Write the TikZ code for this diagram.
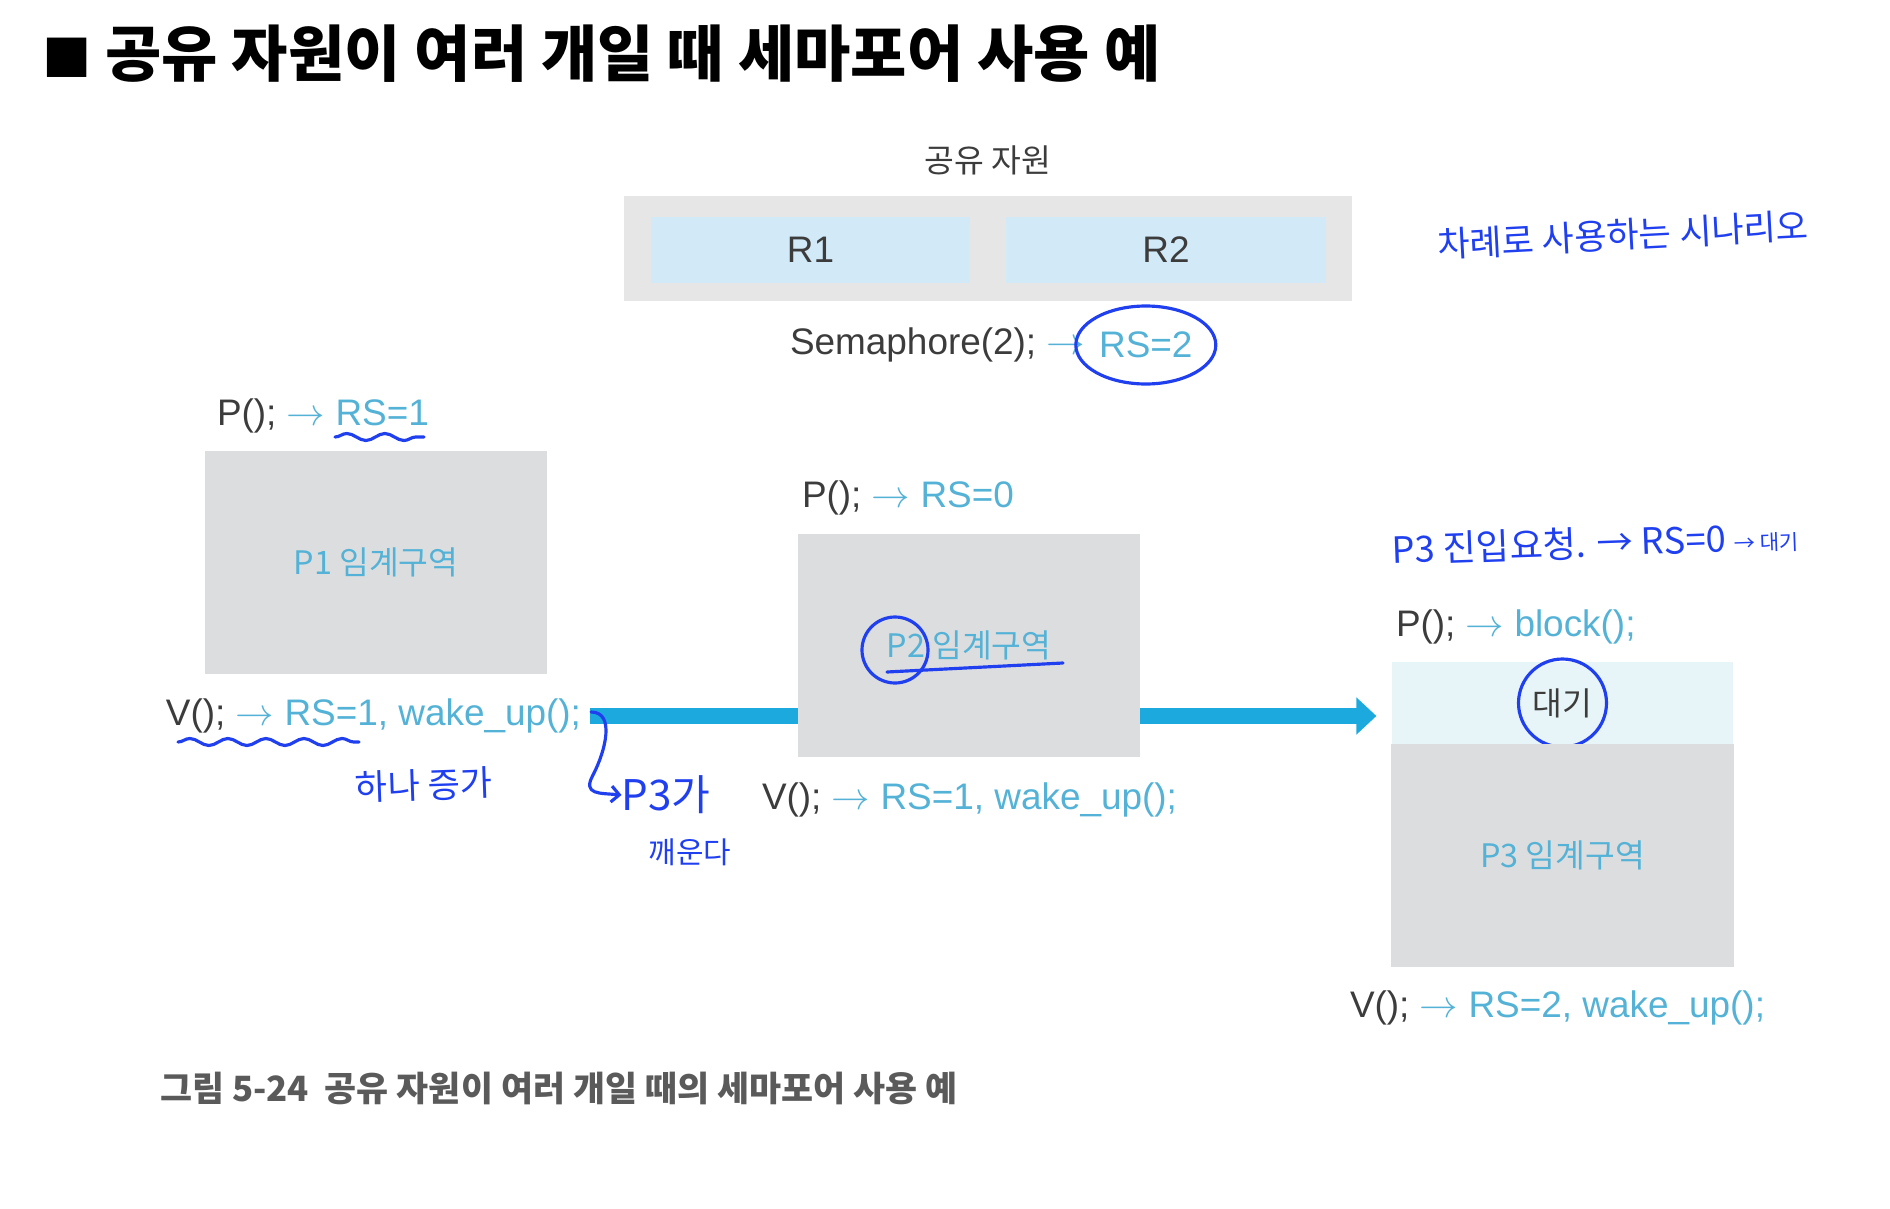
\documentclass[tikz,border=0pt]{standalone}
\usepackage{fontspec}
\setmainfont{Liberation Sans}
\newfontfamily\kr{Noto Sans CJK KR}
\usetikzlibrary{decorations.pathmorphing,arrows.meta,positioning}

\definecolor{boxgray}{RGB}{220,221,223}
\definecolor{outergray}{RGB}{230,230,230}
\definecolor{resblue}{RGB}{210,234,248}
\definecolor{waitcyan}{RGB}{232,245,248}
\definecolor{codeblue}{RGB}{84,178,214}
\definecolor{flowblue}{RGB}{28,170,222}
\definecolor{inkblue}{RGB}{32,64,240}
\definecolor{textgray}{RGB}{60,60,60}
\definecolor{capgray}{RGB}{90,90,90}

\newcommand{\arr}{\textcolor{codeblue}{$\rightarrow$}}

\begin{document}
\begin{tikzpicture}[x=0.01cm,y=-0.01cm,line cap=round,line join=round,
  every node/.style={inner sep=0pt,outer sep=0pt},
  code/.style={font=\fontsize{10.5}{12}\selectfont,text=textgray,anchor=west},
  krlabel/.style={font=\kr\fontsize{9.2}{11}\selectfont},
  area/.style={fill=boxgray,minimum width=3.42cm,minimum height=2.23cm,krlabel,text=codeblue},
  resbox/.style={fill=resblue,minimum width=3.19cm,minimum height=0.66cm,font=\fontsize{10.5}{12}\selectfont,text=textgray},
  flow/.style={draw=flowblue,line width=4.8pt,line cap=butt},
  ink/.style={draw=inkblue,line width=0.9pt},
  wavy/.style={ink,decorate,decoration={snake,segment length=0.38cm,amplitude=0.035cm}},
  hand/.style={text=inkblue,font=\kr\fontsize{10}{12}\selectfont}]
  \useasboundingbox (0,0) rectangle (1890,1209);

  % title
  \node[anchor=west,font=\kr\bfseries\fontsize{17.4}{20}\selectfont] (title) at (42,54) {{\fontsize{14}{16}\selectfont ■} 공유 자원이 여러 개일 때 세마포어 사용 예};

  % shared resources
  \node[krlabel,text=textgray] (reslabel) at (988,160) {공유 자원};
  \node[fill=outergray,minimum width=7.28cm,minimum height=1.05cm] (shared) at (988,248.5) {};
  \node[resbox] (r1) at (810.5,250) {R1};
  \node[resbox] (r2) at (1166,250) {R2};
  \node[code] (sem) at (790,345) {Semaphore(2); \arr};
  \node[code,text=codeblue,right=4pt of sem] (rs2) {RS=2};
  \draw[ink] (rs2.center) ellipse [x radius=70,y radius=39];

  % P1
  \node[code] (p1in) at (217,416) {P(); \arr\ \textcolor{codeblue}{RS=1}};
  \draw[wavy] (335,437) -- (424,437);
  \node[area] (p1) at (376,562.5) {P1 임계구역};
  \node[code] (p1out) at (166,716) {V(); \arr\ \textcolor{codeblue}{RS=1, wake\_up();}};
  \draw[wavy] (178,742) -- (359,742);
  \node[hand,rotate=2] (inc) at (424,785) {하나 증가};

  % P2
  \node[code] (p2in) at (802,498) {P(); \arr\ \textcolor{codeblue}{RS=0}};
  \node[area] (p2) at (969,645.5) {P2 임계구역};
  \draw[ink] (895,650) circle [radius=33];
  \draw[ink] (887,672) -- (1063,663);
  \node[code] (p2out) at (762,800) {V(); \arr\ \textcolor{codeblue}{RS=1, wake\_up();}};

  % P3
  \node[hand,anchor=west,rotate=2,font=\kr\fontsize{10.3}{12}\selectfont] (p3req) at (1392,550) {P3 진입요청. → RS=0 {\fontsize{6}{7}\selectfont → 대기}};
  \node[code] (p3in) at (1396,627) {P(); \arr\ \textcolor{codeblue}{block();}};
  \node[fill=waitcyan,minimum width=3.41cm,minimum height=0.82cm,krlabel,text=textgray] (wait) at (1562.5,703) {대기};
  \draw[ink] (wait.center) circle [radius=44];
  \node[area] (p3) at (1562.5,855.5) {P3 임계구역};
  \node[code] (p3out) at (1350,1008) {V(); \arr\ \textcolor{codeblue}{RS=2, wake\_up();}};

  % flow
  \coordinate (fstart) at ([xshift=0.09cm]p1out.east);
  \draw[flow] (fstart) -- (p2.west |- fstart);
  \draw[flow,-{Triangle[length=0.2cm,width=0.36cm]},shorten >=0.15cm] (p2.east |- fstart) -- (p3.west |- fstart);

  % notes
  \node[hand,font=\kr\fontsize{12}{14}\selectfont] (wake) at (666,795) {P3가};
  \node[hand,font=\kr\fontsize{8.5}{10}\selectfont] (wake2) at (690,852) {깨운다};
  \draw[ink,-{Straight Barb[length=0.08cm]}] ([xshift=0.1cm,yshift=0.04cm]p1out.east) .. controls (615,712) and (606,750) .. (593,775) .. controls (582,795) and (600,793) .. (wake.west);
  \node[hand,rotate=3] (scen) at (1623,235) {차례로 사용하는 시나리오};

  % caption
  \node[anchor=west,font=\kr\bfseries\fontsize{9.9}{11}\selectfont,text=capgray] (cap) at (160,1088) {그림 5-24\ \ 공유 자원이 여러 개일 때의 세마포어 사용 예};
\end{tikzpicture}
\end{document}
